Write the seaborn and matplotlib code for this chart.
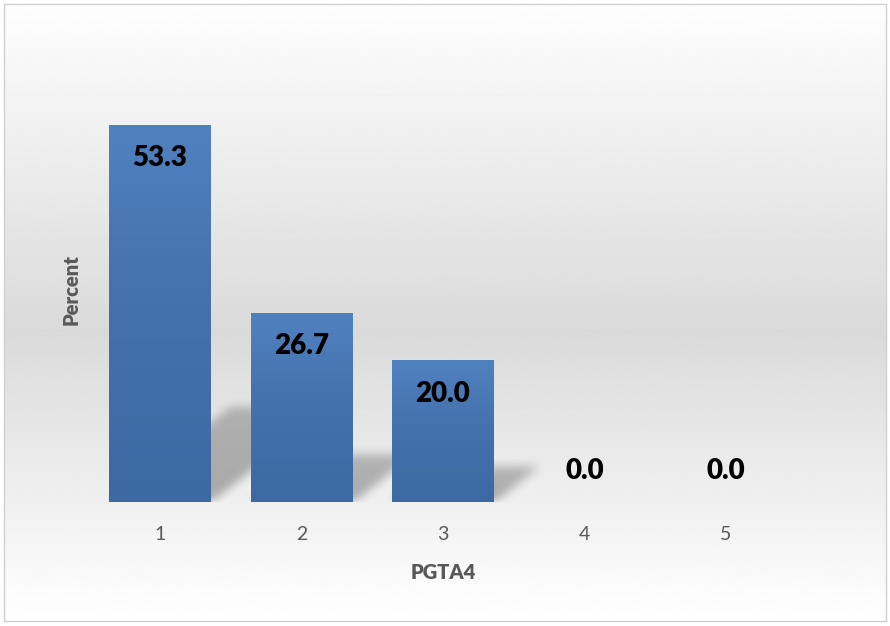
import numpy as np
import pandas as pd
import seaborn as sns
import matplotlib.pyplot as plt
from matplotlib.colors import LinearSegmentedColormap

# data
categories = ['1', '2', '3', '4', '5']
percent = [53.3, 26.7, 20.0, 0.0, 0.0]
value_labels = ['53.3', '26.7', '20.0', '0.0', '0.0']

df = pd.DataFrame({'PGTA4': categories, 'Percent': percent})

sns.set_theme(style='white')
plt.rcParams['font.family'] = ['Lato', 'DejaVu Sans']

W, H = 890, 626
fig = plt.figure(figsize=(W / 100, H / 100), dpi=100)
fig.patch.set_facecolor('white')

# chart area background: white -> grey -> white vertical gradient
bg = fig.add_axes([4 / W, 5 / H, 882 / W, 617 / H])
t = np.linspace(0, 1, 400)
shade = np.where(t < 0.53, 0.995 - (0.995 - 0.855) * t / 0.53,
                 0.855 + (1.0 - 0.855) * (t - 0.53) / 0.47)
bg.imshow(shade[:, None], cmap='gray', vmin=0, vmax=1, aspect='auto',
          extent=[0, 1, 0, 1])
bg.set_xticks([])
bg.set_yticks([])
for s in bg.spines.values():
    s.set_color('#d0d0d0')
    s.set_linewidth(1)

# plot area
ax = fig.add_axes([89.25 / W, 124 / H, 707.5 / W, 424 / H])
ax.patch.set_alpha(0)
ymax = 60
sns.barplot(data=df, x='PGTA4', y='Percent', color='#4a7ab8', width=0.72,
            linewidth=0, ax=ax, zorder=3)

bar_cmap = LinearSegmentedColormap.from_list('bar', ['#3d69a3', '#4470ac', '#5081bf'])
bar_grad = np.linspace(0, 1, 256)[:, None]

# pixels per data unit, for the soft shadow
ppx = 707.5 / 5
ppy = 424 / ymax


def blur(a, n=11):
    k = np.ones(n) / n
    a = np.apply_along_axis(lambda r: np.convolve(r, k, mode='same'), 0, a)
    a = np.apply_along_axis(lambda r: np.convolve(r, k, mode='same'), 1, a)
    return a


for p in ax.patches:
    x, w, h = p.get_x(), p.get_width(), p.get_height()
    if h <= 0:
        continue
    # perspective shadow falling back and to the right
    dx, dy = 0.016 * h, 0.25 * h
    pad = 18
    x0, x1 = x - pad / ppx, x + w + dx + pad / ppx
    y0, y1 = 0, dy + pad / ppy
    nx, ny = int((x1 - x0) * ppx), int((y1 - y0) * ppy)
    gx = x0 + (np.arange(nx) + 0.5) / ppx
    gy = y0 + (np.arange(ny) + 0.5) / ppy
    GX, GY = np.meshgrid(gx, gy)
    sx = GX - GY / dy * dx
    inside = (GY <= dy) & (sx >= x) & (sx <= x + w)
    alpha = inside * (0.30 - 0.07 * GY / dy)
    alpha = blur(blur(alpha))
    img = np.zeros((ny, nx, 4))
    img[..., 3] = alpha
    ax.imshow(img, extent=[x0, x1, y0, y1], origin='lower', aspect='auto',
              zorder=2)
    # bar fill gradient
    ax.imshow(bar_grad, cmap=bar_cmap, extent=[x, x + w, 0, h], aspect='auto',
              origin='lower', zorder=4)

for i, (v, lab) in enumerate(zip(percent, value_labels)):
    off = -33 if v > 0 else 31
    ax.annotate(lab, (i, v), xytext=(0, off), textcoords='offset pixels',
                ha='center', va='center', fontsize=20, fontweight='heavy',
                color='black', zorder=5)

ax.set_xlim(-0.5, 4.5)
ax.set_ylim(0, ymax)
ax.set_yticks([])
ax.tick_params(axis='x', length=0, pad=17, labelsize=14, labelcolor='#595959')
ax.set_xlabel('PGTA4', fontsize=14.5, fontweight='heavy', color='#595959', labelpad=15)
ax.set_ylabel('Percent', fontsize=14.5, fontweight='heavy', color='#595959', labelpad=6)
for s in ax.spines.values():
    s.set_visible(False)

fig.savefig('out.png', dpi=100, facecolor='white')
